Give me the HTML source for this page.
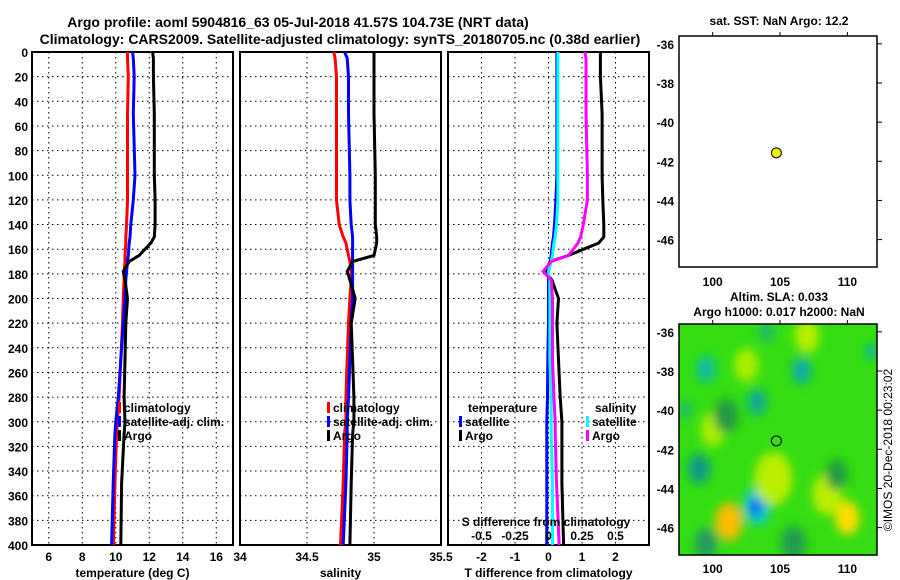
<!DOCTYPE html>
<html><head><meta charset="utf-8"><style>
body{margin:0;background:#fff;}
svg{display:block;font-family:"Liberation Sans",sans-serif;font-weight:bold;}
</style></head><body>
<svg id="c" width="900" height="580" viewBox="0 0 900 580">
<defs>
<filter id="bl" x="-50%" y="-50%" width="200%" height="200%"><feGaussianBlur stdDeviation="5"/></filter>
<clipPath id="mc"><rect x="679" y="324" width="198" height="231"/></clipPath>
</defs>
<text x="298" y="27" text-anchor="middle" font-size="14">Argo profile: aoml 5904816_63 05-Jul-2018 41.57S 104.73E (NRT data)</text>
<text x="340" y="44" text-anchor="middle" font-size="14">Climatology: CARS2009. Satellite-adjusted climatology: synTS_20180705.nc (0.38d earlier)</text>
<g id="g"></g>
</svg>
<script>
// depth levels shared by profiles
const depthT=[0,5,20,50,100,120,140,150,155,165,170,178,185,200,220,250,280,300,310,350,400];
const tempClim=[10.7,10.7,10.75,10.7,10.7,10.7,10.65,10.6,10.6,10.55,10.55,10.5,10.5,10.45,10.4,10.3,10.2,10.1,10.05,9.95,9.86];
const tempSat=[11.0,11.05,11.1,11.05,11.15,11.05,10.9,10.85,10.8,10.75,10.7,10.65,10.6,10.55,10.45,10.3,10.15,10.0,9.95,9.85,9.75];
const tempArgo=[12.2,12.25,12.25,12.3,12.3,12.35,12.35,12.3,12.1,11.4,10.8,10.45,10.55,10.7,10.6,10.55,10.5,10.55,10.5,10.35,10.3];
const salClim=[34.70,34.71,34.72,34.72,34.72,34.72,34.74,34.77,34.79,34.81,34.82,34.83,34.83,34.82,34.81,34.80,34.79,34.79,34.78,34.77,34.75];
const salSat=[34.78,34.80,34.81,34.81,34.82,34.82,34.83,34.84,34.84,34.84,34.84,34.84,34.84,34.84,34.83,34.82,34.81,34.80,34.80,34.79,34.77];
const salArgo=[35.0,35.0,35.0,35.0,35.01,35.01,35.01,35.02,35.02,35.0,34.84,34.80,34.82,34.86,34.83,34.84,34.85,34.85,34.84,34.83,34.82];
const tdiffSat=[0.25,0.25,0.25,0.25,0.25,0.22,0.18,0.15,0.12,0.08,0.05,0.0,0.0,0.0,0.0,-0.02,-0.03,-0.05,-0.05,-0.05,-0.05];
const tdiffArgo=[1.55,1.55,1.55,1.6,1.6,1.62,1.65,1.65,1.5,0.6,0.05,-0.1,0.1,0.3,0.25,0.3,0.35,0.4,0.4,0.4,0.45];
const sdiffSat=[0.07,0.07,0.07,0.07,0.07,0.07,0.06,0.05,0.04,0.03,0.02,0.0,0.01,0.01,0.01,0.01,0.02,0.02,0.02,0.03,0.03];
const sdiffArgo=[0.27,0.28,0.28,0.28,0.29,0.29,0.26,0.24,0.22,0.15,0.02,-0.04,0.02,0.03,0.03,0.03,0.04,0.05,0.05,0.06,0.08];
const depthTicks=[0,20,40,60,80,100,120,140,160,180,200,220,240,260,280,300,320,340,360,380,400];
const tempTicks=[6,8,10,12,14,16];
const salTicks=[34,34.5,35,35.5];
const tdTicks=[-2,-1,0,1,2];
const sdTicks=[-0.5,-0.25,0,0.25,0.5];
const latTicks=[-36,-38,-40,-42,-44,-46];
const lonTicks=[100,105,110];
const argoPos=[104.73,-41.57];
const slaBlobs=[[99.5,-37.9,0.7,'#11bbaa'],[103.3,-39.6,0.7,'#11aa99'],[106.6,-38.0,0.7,'#11aaaa'],[103.3,-44.9,1.0,'#11cccc'],[99,-43,0.8,'#119988'],[101.2,-45.7,1.0,'#ffbb00'],[110,-45.5,0.9,'#ffdd00'],[102.5,-37.7,0.9,'#aaee00'],[104.5,-43.5,1.4,'#bbee00'],[108.5,-44.3,1.1,'#bbee00'],[100,-41,0.9,'#aaee00'],[109.2,-43.3,0.8,'#229944'],[106,-46.8,0.9,'#229955'],[111.8,-37,0.4,'#11aabb'],[104,-36,0.6,'#22bb66'],[107,-36.2,0.9,'#bbee00'],[98,-40,0.5,'#22bb66'],[101,-40.3,0.9,'#229944'],[99.5,-46.8,0.8,'#229966'],[103.2,-44.95,0.45,'#0044ff']];

const NS='http://www.w3.org/2000/svg';
const G=document.getElementById('g');
function mk(t,a,p){const e=document.createElementNS(NS,t);for(const k in a)e.setAttribute(k,a[k]);(p||G).appendChild(e);return e;}
function txt(x,y,s,anc,size,p){const e=mk('text',{x:x,y:y,'text-anchor':anc||'middle','font-size':size||12},p);e.textContent=s;return e;}
const Y0=52,Y1=545;
const yD=d=>Y0+(d/400)*(Y1-Y0);
const panels=[{x0:32,lo:5,hi:17,ticks:tempTicks,label:'temperature (deg C)',name:'temperature'},
 {x0:240,lo:34,hi:35.5,ticks:salTicks,label:'salinity',name:'salinity'},
 {x0:448,lo:-3,hi:3,ticks:tdTicks,label:'T difference from climatology',name:'difference'}];
const W=201;
panels.forEach((P,i)=>{
  const sx=v=>P.x0+(v-P.lo)/(P.hi-P.lo)*W;P.sx=sx;
  const g=mk('g',{});
  
  
  P.g=g;
  P.ticks.forEach(t=>{const x=sx(t);
    if(x>P.x0+2&&x<P.x0+W-2)mk('line',{x1:x,x2:x,y1:Y0,y2:Y1,stroke:'#000','stroke-dasharray':'1.5,3.5','stroke-width':1},g);
    txt(x,561,String(t),'middle',12,g);});
  depthTicks.forEach(d=>{const y=yD(d);
    if(d>0&&d<400)mk('line',{x1:P.x0,x2:P.x0+W,y1:y,y2:y,stroke:'#000','stroke-dasharray':'1.5,3.5','stroke-width':1},g);
    if(i==0)txt(28,y+5,String(d),'end',12,g);});
  mk('rect',{x:P.x0,y:Y0,width:W,height:Y1-Y0,fill:'none',stroke:'#000','stroke-width':2},g);
  txt(P.x0+W/2,577,P.label,'middle',12,g);
});
function line(P,vals,col,sc,name){
  const sx=v=>P.sx(v*(sc||1));
  const pts=vals.map((v,k)=>sx(v).toFixed(1)+','+yD(depthT[k]).toFixed(1)).join(' ');
  const e=mk('polyline',{points:pts,fill:'none',stroke:col,'stroke-width':3},P.g);
  
  
}
line(panels[0],tempClim,'#f00',1,'temp-climatology-line');
line(panels[0],tempSat,'#00f',1,'temp-satellite-line');
line(panels[0],tempArgo,'#000',1,'temp-argo-line');
line(panels[1],salClim,'#f00',1,'sal-climatology-line');
line(panels[1],salSat,'#00f',1,'sal-satellite-line');
line(panels[1],salArgo,'#000',1,'sal-argo-line');
line(panels[2],tdiffSat,'#00f',1,'tdiff-satellite-line');
line(panels[2],tdiffArgo,'#000',1,'tdiff-argo-line');
line(panels[2],sdiffSat,'#0ff',4,'sdiff-satellite-line');
line(panels[2],sdiffArgo,'#f0f',4,'sdiff-argo-line');
function leg(x,y,col,s,g,name){mk('rect',{x:x,y:y-10,width:3,height:11,fill:col},g);const t=txt(x+6,y,s,'start',12,g);}
[[0,118],[1,327]].forEach(([i,x])=>{const g=panels[i].g;
  leg(x,412,'#f00','climatology',g,'legend-climatology');
  leg(x,426,'#00f','satellite-adj. clim.',g,'legend-satellite');
  leg(x,440,'#000','Argo',g,'legend-argo');});
const g3=panels[2].g;
txt(468,412,'temperature','start',12,g3);
leg(459,426,'#00f','satellite',g3,'legend-t-satellite');
leg(459,440,'#000','Argo',g3,'legend-t-argo');
txt(595,412,'salinity','start',12,g3);
leg(586,426,'#0ff','satellite',g3,'legend-s-satellite');
leg(586,440,'#f0f','Argo',g3,'legend-s-argo');
txt(546,526,'S difference from climatology','middle',12,g3);
sdTicks.forEach(t=>txt(panels[2].sx(t*4),540,String(t),'middle',12,g3));

// maps
const MX0=679,MW=198,MH=231;
const lonLo=97.5,lonHi=112.2,latHi=-35.6,latLo=-47.4;
function mapAxes(y0,name,xlabY){
  const g=mk('g',{});
  const mx=v=>MX0+(v-lonLo)/(lonHi-lonLo)*MW, my=v=>y0+(latHi-v)/(latHi-latLo)*MH;
  return {g,mx,my,y0,xlabY};
}
function frame(M){
  mk('rect',{x:MX0,y:M.y0,width:MW,height:MH,fill:'none',stroke:'#000','stroke-width':1.5},M.g);
  latTicks.forEach(t=>{const y=M.my(t);mk('line',{x1:MX0+MW,x2:MX0+MW+5,y1:y,y2:y,stroke:'#000'},M.g);txt(MX0-5,y+5,String(t),'end',12,M.g);});
  lonTicks.forEach(t=>{const x=M.mx(t);mk('line',{x1:x,x2:x,y1:M.y0,y2:M.y0-4,stroke:'#000'},M.g);txt(x,M.xlabY,String(t),'middle',12,M.g);});
}
const M1=mapAxes(36,'sst-map',286);
frame(M1);
const d1=mk('circle',{cx:M1.mx(argoPos[0]),cy:M1.my(argoPos[1]),r:5,fill:'#ee0',stroke:'#000'},M1.g);

txt(779,25,'sat. SST: NaN Argo: 12.2','middle',12);
txt(779,301,'Altim. SLA: 0.033','middle',12);
txt(779,316,'Argo h1000: 0.017 h2000: NaN','middle',12);
const M2=mapAxes(324,'sla-map',573);
const bg=mk('g',{'clip-path':'url(#mc)'},M2.g);
mk('rect',{x:MX0,y:324,width:MW,height:MH,fill:'#33dd11'},bg);
const bf=mk('g',{filter:'url(#bl)'},bg);
slaBlobs.forEach(b=>{const e=mk('ellipse',{cx:M2.mx(b[0]),cy:M2.my(b[1]),rx:b[2]*13.5,ry:b[2]*19,fill:b[3]},bf);
  });
frame(M2);
const d2=mk('circle',{cx:M2.mx(argoPos[0]),cy:M2.my(argoPos[1]),r:5,fill:'none',stroke:'#000'},M2.g);

const cp=txt(0,0,'©IMOS 20-Dec-2018 00:23:02','middle',12);
cp.setAttribute('transform','translate(892,450) rotate(-90)');cp.setAttribute('font-weight','normal');

</script>
</body></html>
